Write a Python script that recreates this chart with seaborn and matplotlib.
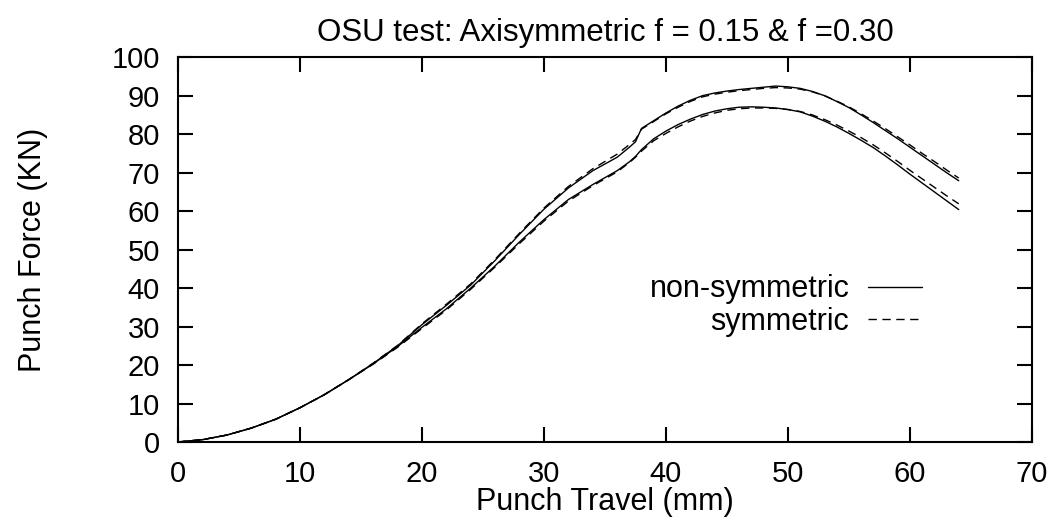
import matplotlib
matplotlib.use("Agg")
import matplotlib.pyplot as plt
import seaborn as sns
import pandas as pd

# Data
travel = [0, 2, 4, 6, 8, 10, 12, 14, 16, 18, 20, 22, 24, 26, 28, 30, 32, 34, 36,
          37, 37.5, 38, 39, 40, 41, 42, 43, 44, 45, 46, 47, 48, 49, 50, 51, 52,
          53, 54, 55, 56, 57, 58, 59, 60, 61, 62, 63, 64]

# f = 0.30 (upper pair)
nonsym_030 = [0, 0.6, 1.8, 3.6, 5.9, 8.9, 12.3, 16.2, 20.4, 25.0, 30.5, 35.5, 40.8,
              47.2, 54.0, 60.5, 66.0, 70.5, 74.0, 76.6, 78.0, 81.5, 83.5, 85.5, 87.3,
              88.8, 90.0, 90.7, 91.2, 91.6, 91.9, 92.2, 92.5, 92.3, 91.9, 91.1, 90.0,
              88.5, 86.9, 85.0, 83.0, 80.9, 78.8, 76.6, 74.4, 72.2, 70.0, 67.9]
sym_030 = [0, 0.6, 1.8, 3.6, 5.9, 8.9, 12.3, 16.2, 20.5, 25.1, 30.7, 35.8, 41.1,
           47.5, 54.3, 60.8, 66.4, 71.0, 74.8, 77.3, 78.6, 81.3, 83.3, 85.3, 87.0,
           88.5, 89.7, 90.4, 90.9, 91.3, 91.6, 91.9, 92.1, 92.0, 91.7, 91.0, 90.0,
           88.6, 87.1, 85.3, 83.4, 81.4, 79.3, 77.2, 75.0, 72.9, 70.7, 68.6]

# f = 0.15 (lower pair)
nonsym_015 = [0, 0.6, 1.8, 3.6, 5.9, 8.9, 12.3, 16.2, 20.3, 24.8, 29.8, 34.6, 40.0,
              45.8, 52.0, 57.8, 63.0, 66.9, 70.5, 72.8, 74.2, 76.0, 78.8, 80.8, 82.5,
              83.9, 85.1, 86.0, 86.6, 87.0, 87.1, 87.0, 86.8, 86.4, 85.8, 84.7, 83.4,
              81.9, 80.2, 78.4, 76.5, 74.3, 72.0, 69.6, 67.3, 65.0, 62.7, 60.4]
sym_015 = [0, 0.6, 1.8, 3.6, 5.9, 8.9, 12.3, 16.2, 20.2, 24.6, 29.5, 34.3, 39.7,
           45.5, 51.6, 57.4, 62.6, 66.6, 70.2, 72.6, 74.0, 75.6, 78.3, 80.2, 81.9,
           83.4, 84.6, 85.5, 86.2, 86.6, 86.8, 86.8, 86.7, 86.4, 85.9, 85.0, 83.8,
           82.4, 80.8, 79.1, 77.2, 75.1, 72.9, 70.6, 68.4, 66.2, 64.0, 61.9]

df = pd.DataFrame({
    "travel": travel * 4,
    "force": nonsym_030 + sym_030 + nonsym_015 + sym_015,
    "model": ["non-symmetric"] * len(travel) + ["symmetric"] * len(travel)
             + ["non-symmetric"] * len(travel) + ["symmetric"] * len(travel),
    "friction": [0.30] * (2 * len(travel)) + [0.15] * (2 * len(travel)),
})

sns.set_style("ticks")
plt.rcParams["font.family"] = ["Liberation Sans", "DejaVu Sans"]
plt.rcParams["text.color"] = "black"
plt.rcParams["axes.labelcolor"] = "black"

fig = plt.figure(figsize=(10.53, 5.2), dpi=100)
ax = fig.add_axes([0.169, 0.150, 0.811, 0.740])

styles = {"non-symmetric": "-", "symmetric": (0, (6, 4))}
for (fr, model), grp in df.groupby(["friction", "model"]):
    sns.lineplot(data=grp, x="travel", y="force", ax=ax, color="black",
                 linewidth=1.0, linestyle=styles[model], estimator=None,
                 label=model if fr == 0.15 else None)

ax.set_xlim(0, 70)
ax.set_ylim(0, 100)
ax.set_xticks(range(0, 71, 10))
ax.set_yticks(range(0, 101, 10))
ax.tick_params(direction="in", top=True, right=True, length=11, width=1.5,
               labelsize=21, pad=13, color="black", labelcolor="black")
for s in ax.spines.values():
    s.set_visible(True)
    s.set_linewidth(1.5)
    s.set_color("black")

ax.set_title("OSU test: Axisymmetric f = 0.15 & f =0.30", fontsize=22.5, pad=12,
             color="black")
ax.set_xlabel("Punch Travel (mm)", fontsize=22, labelpad=-1)
ax.set_ylabel("Punch Force (KN)", fontsize=22, labelpad=46)

handles, labels = ax.get_legend_handles_labels()
ax.legend(handles[:2], labels[:2], loc="upper right", bbox_to_anchor=(0.871, 0.436),
          frameon=False, markerfirst=False, fontsize=22, handlelength=1.77,
          handletextpad=0.6, labelspacing=0.08, borderpad=0, borderaxespad=0)

fig.savefig("out.png", dpi=100)
